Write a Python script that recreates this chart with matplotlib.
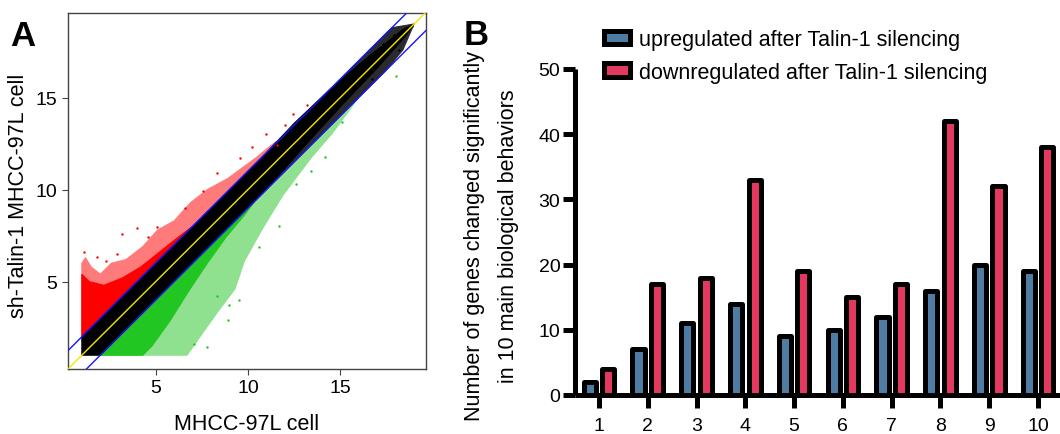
import matplotlib
matplotlib.use('Agg')
import matplotlib.pyplot as plt
import numpy as np
from matplotlib.patches import Polygon

plt.rcParams['font.family'] = ['Liberation Sans', 'DejaVu Sans']

# Panel A: scatter of log2 signal, drawn as the outlines of the dense clouds
# plus the single outlying dots
black_core = [(1.0, 1.0), (2.0, 1.0), (11.0, 10.0), (13.0, 12.3), (15.0, 14.5), (17.0, 16.6),
              (18.5, 18.3), (19.0, 19.0), (18.4, 18.7), (16.5, 17.2), (14.5, 15.5),
              (12.5, 13.6), (11.0, 12.0), (1.0, 2.0)]
black_sparse = [(11.0, 10.0), (17.5, 16.5), (18.4, 17.6), (19.0, 19.0), (17.8, 18.8), (11.0, 12.0)]
red_dense = [(1.0, 2.0), (1.0, 5.4), (1.4, 5.0), (2.2, 4.8), (3.2, 5.2), (4.2, 5.8),
             (5.2, 6.6), (6.2, 7.4), (7.0, 8.0)]
red_sparse = [(1.0, 2.0), (1.0, 6.0), (1.2, 6.3), (1.5, 5.8), (2.0, 5.4), (2.6, 6.0), (3.4, 6.2),
              (4.3, 6.9), (5.1, 7.8), (6.0, 8.3), (6.9, 9.3), (7.8, 10.0), (8.9, 10.6),
              (10.4, 11.7), (11.5, 12.6), (11.6, 12.6)]
green_dense = [(2.0, 1.0), (4.3, 1.0), (4.8, 1.5), (5.8, 2.9), (6.8, 4.5), (7.8, 6.0),
               (8.8, 7.4), (9.8, 8.6), (10.4, 9.4)]
green_sparse = [(2.0, 1.0), (6.7, 1.0), (7.45, 2.07), (8.37, 3.37), (9.3, 4.6), (9.8, 6.1),
                (10.8, 7.9), (11.9, 9.7), (13.4, 11.7), (14.6, 13.1), (15.7, 14.6), (16.0, 15.0)]

red_x = [3.15, 3.97, 1.8, 1.14, 2.9, 5.05, 7.55, 9.56, 11.0, 12.0, 13.2, 12.45, 11.6, 2.3, 4.6, 6.6, 8.3, 10.2]
red_y = [7.6, 7.9, 6.35, 6.6, 6.5, 7.97, 9.95, 11.7, 13.0, 13.5, 14.6, 14.1, 12.4, 6.1, 7.4, 9.0, 10.9, 12.3]
green_x = [7.8, 9.5, 9.0, 8.3, 11.7, 18.0, 14.2, 13.4, 7.1, 10.6, 12.6, 15.1, 8.9]
green_y = [1.47, 4.0, 3.75, 4.2, 8.0, 16.2, 11.8, 11.0, 1.6, 6.9, 10.3, 13.7, 2.9]
black_x = [18.9, 18.2, 17.3, 16.7, 15.2, 17.9]
black_y = [18.9, 17.6, 17.9, 16.0, 15.8, 18.4]

fold_cut = [-1, 1]

# Panel B: gene counts per biological behavior
behaviors = [1, 2, 3, 4, 5, 6, 7, 8, 9, 10]
up = [2, 7, 11, 14, 9, 10, 12, 16, 20, 19]
down = [4, 17, 18, 33, 19, 15, 17, 42, 32, 38]

fig = plt.figure(figsize=(10.6, 4.35), dpi=100)

# ---- A ----
ax1 = fig.add_axes([68/1060, 1-370/435, 358/1060, 356/435])
for pts, col in [(red_sparse, '#ff7a7a'), (green_sparse, '#8fe08f'),
                 (black_sparse, '#2b2b2b'), (red_dense, '#ff0000'),
                 (green_dense, '#22c622'), (black_core, '#000000')]:
    ax1.add_patch(Polygon(pts, closed=True, facecolor=col, edgecolor=col, lw=0.8, zorder=1))
ax1.scatter(red_x, red_y, s=3, color='#ff0000', lw=0, zorder=2)
ax1.scatter(green_x, green_y, s=3, color='#22c622', lw=0, zorder=2)
ax1.scatter(black_x, black_y, s=3, color='#000000', lw=0, zorder=2)
ax1.axline((0, 0), slope=1, color='#f2e600', lw=1.0, zorder=3)
for c in fold_cut:
    ax1.axline((0, c), slope=1, color='#1414ff', lw=1.0, zorder=3)
ax1.set_xlim(0.25, 19.65)
ax1.set_ylim(0.25, 19.6)
ax1.set_xticks([5, 10, 15])
ax1.set_yticks([5, 10, 15])
ax1.tick_params(labelsize=14, length=4, width=0.8, color='#444444')
for s in ax1.spines.values():
    s.set_color('#444444')
    s.set_linewidth(1.0)
ax1.set_xlabel('MHCC-97L cell', fontsize=15.5)
ax1.set_ylabel('sh-Talin-1 MHCC-97L cell', fontsize=15.5)
ax1.xaxis.set_label_coords(0.5, -0.125)
ax1.yaxis.set_label_coords(-0.109, 0.49)

# ---- B ----
ax2 = fig.add_axes([575/1060, 1-396/435, 485/1060, 326/435])
x = np.array(behaviors)
ax2.bar(x - 0.19, up, width=0.25, color='#4e7ca3', edgecolor='black', linewidth=3.6,
        joinstyle='round', label='upregulated after Talin-1 silencing', zorder=3)
ax2.bar(x + 0.19, down, width=0.25, color='#e3395f', edgecolor='black', linewidth=3.6,
        joinstyle='round', label='downregulated after Talin-1 silencing', zorder=3)
ax2.set_xlim(0.508, 10.45)
ax2.set_ylim(0, 50)
ax2.set_xticks(behaviors)
ax2.set_yticks([0, 10, 20, 30, 40, 50])
ax2.spines['top'].set_visible(False)
ax2.spines['right'].set_visible(False)
for s in ['left', 'bottom']:
    ax2.spines[s].set_linewidth(3.6)
    ax2.spines[s].set_capstyle('butt')
ax2.tick_params(axis='y', labelsize=14, length=8.5, width=3.6, pad=2)
ax2.tick_params(axis='x', labelsize=14, length=9, width=3.6, pad=6.5)
ax2.set_ylabel('Number of genes changed significantly\nin 10 main biological behaviors',
               fontsize=15.5, linespacing=1.8)
ax2.yaxis.set_label_coords(-0.115, 0.49)

fig.legend(loc='upper left', bbox_to_anchor=(604/1060, 1-30/435), frameon=False,
           fontsize=15.5, borderpad=0, borderaxespad=0, handlelength=1.21, handleheight=0.6,
           handletextpad=0.4, labelspacing=0.55)

fig.text(10/1060, 1-46/435, 'A', fontsize=25, fontweight='bold', va='baseline')
fig.text(464/1060, 1-45/435, 'B', fontsize=25, fontweight='bold', va='baseline')

fig.savefig('out.png', dpi=100)
